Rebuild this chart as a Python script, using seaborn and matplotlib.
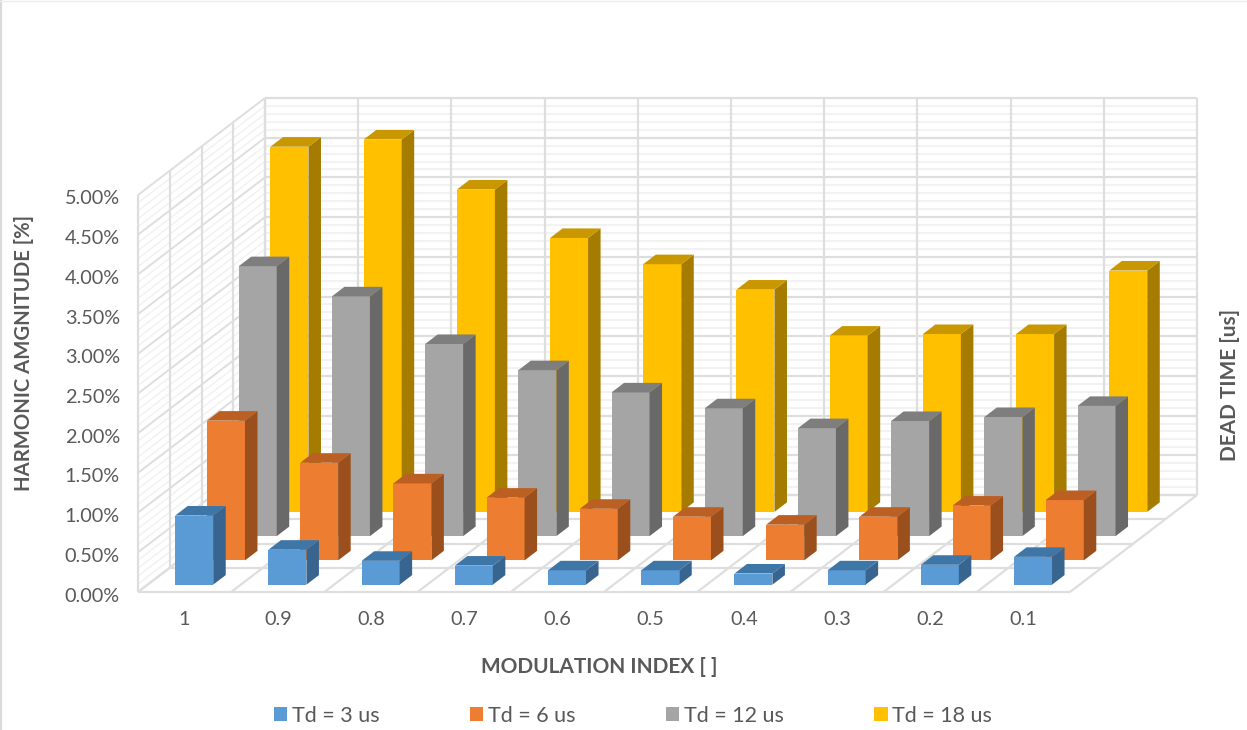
import matplotlib
matplotlib.use("Agg")
import matplotlib.pyplot as plt
from matplotlib.lines import Line2D
from matplotlib.patches import Patch
from matplotlib.transforms import ScaledTranslation
import numpy as np
import pandas as pd
import seaborn as sns

categories = ["1", "0.9", "0.8", "0.7", "0.6", "0.5", "0.4", "0.3", "0.2", "0.1"]
td3 = [0.87, 0.44, 0.30, 0.24, 0.18, 0.18, 0.14, 0.18, 0.25, 0.35]
td6 = [1.76, 1.23, 0.97, 0.79, 0.65, 0.55, 0.45, 0.55, 0.69, 0.76]
td12 = [3.40, 3.02, 2.42, 2.09, 1.81, 1.61, 1.36, 1.45, 1.50, 1.64]
td18 = [4.60, 4.69, 4.06, 3.45, 3.12, 2.80, 2.22, 2.24, 2.24, 3.04]
series_names = ["Td = 3 us", "Td = 6 us", "Td = 12 us", "Td = 18 us"]
yticks = [0, 0.5, 1, 1.5, 2, 2.5, 3, 3.5, 4, 4.5, 5]

front_cols = ["#5B9BD5", "#ED7D31", "#A5A5A5", "#FFC000"]
side_cols = ["#37658F", "#9A4F1D", "#696969", "#A67C00"]
top_cols = ["#3F76A8", "#BC5F22", "#7E7E7E", "#C99700"]

sns.set_theme(style="white")
plt.rcParams["font.family"] = ["Lato", "DejaVu Sans"]

W, H = 1247, 730
fig = plt.figure(figsize=(W / 100, H / 100), dpi=100, facecolor="white")
# pixel geometry of the plot box -> axes
L, R, B, T = 138, 1197, 592, 98
ax = fig.add_axes([L / W, 1 - B / H, (R - L) / W, (B - T) / H])
cat_px, val_px = 93.2, 79.4
DX = 127 / cat_px          # full depth in category units
DY = 97 / val_px           # full depth in value units
n = len(categories)
ax.set_xlim(0, (R - L) / cat_px)
ax.set_ylim(0, (B - T) / val_px)
ax.set_facecolor("none")

MAJ, MIN = "#DEDEDE", "#F2F2F2"
vmax = yticks[-1]


def seg(xs, ys, c, lw=1.6, z=0.5):
    ax.plot(xs, ys, color=c, lw=lw, zorder=z, solid_capstyle="butt", clip_on=False)


# minor then major grid on the two walls
levels = np.arange(0, 51) / 10
for v in levels:
    if round(v * 10) % 5:
        seg([DX, n + DX], [v + DY, v + DY], MIN, 1.5, 0.3)
        seg([0, DX], [v, v + DY], MIN, 1.1, 0.3)
for v in yticks:
    seg([DX, n + DX], [v + DY, v + DY], MAJ, 1.6, 0.5)
    seg([0, DX], [v, v + DY], MAJ, 1.4, 0.5)
for i in range(n + 1):
    seg([i + DX, i + DX], [DY, vmax + DY], MAJ)
    seg([i, i + DX], [0, DY], MAJ)
for k in range(5):
    fx, fy = k / 4 * DX, k / 4 * DY
    seg([fx, fx], [fy, vmax + fy], MAJ)
    seg([fx, n + fx], [fy, fy], MAJ)

bar_w = 38 / cat_px
slot_x, slot_y = DX / 4, DY / 4
bar_frac = 0.394
gap = (1 - bar_frac) / 2
centers = np.arange(n) + 0.5
values = [td3, td6, td12, td18]

for j in [3, 2, 1, 0]:
    ox, oy = (j + gap) * slot_x, (j + gap) * slot_y
    ddx, ddy = bar_frac * slot_x, bar_frac * slot_y
    z = 5 + 3 - j
    frame = pd.DataFrame({"pos": centers + ox, "val": values[j]})
    sns.barplot(data=frame, x="pos", y="val", native_scale=True, width=bar_w,
                color=front_cols[j], saturation=1, errorbar=None, bottom=oy,
                linewidth=0, zorder=z, ax=ax)
    for c, v in zip(centers, values[j]):
        x0, x1 = c + ox - bar_w / 2, c + ox + bar_w / 2
        y0, y1 = oy, oy + v
        ax.fill([x1, x1 + ddx, x1 + ddx, x1], [y0, y0 + ddy, y1 + ddy, y1],
                color=side_cols[j], lw=0, zorder=z)
        ax.fill([x0, x1, x1 + ddx, x0 + ddx], [y1, y1, y1 + ddy, y1 + ddy],
                color=top_cols[j], lw=0, zorder=z)

ax.set_xlim(0, (R - L) / cat_px)
ax.set_ylim(0, (B - T) / val_px)
sns.despine(ax=ax, left=True, bottom=True, right=True, top=True)
ax.grid(False)

TXT = "#595959"
ax.set_xticks(centers, categories)
ax.set_yticks(yticks, [f"{v:.2f}%" for v in yticks])
ax.tick_params(axis="x", length=0, pad=13.5, labelsize=14.3, labelcolor=TXT)
ax.tick_params(axis="y", length=0, pad=13, labelsize=14.3, labelcolor=TXT)
ax.set_xlabel("")
ax.set_ylabel("")
down = ScaledTranslation(0, -2.5 / 100, fig.dpi_scale_trans)
for lab in ax.get_yticklabels():
    lab.set_transform(lab.get_transform() + down)

fig.text(599 / W, 1 - 667 / H, "MODULATION INDEX [ ]", ha="center", va="center",
         fontsize=15, fontweight="bold", color=TXT)
fig.text(24 / W, 1 - 353 / H, "HARMONIC AMGNITUDE [%]", ha="center", va="center",
         rotation=90, fontsize=14.6, fontweight="bold", color=TXT)
fig.text(1230.5 / W, 1 - 385 / H, "DEAD TIME [us]", ha="center", va="center",
         rotation=90, fontsize=15, fontweight="bold", color=TXT)

handles = [Patch(color=c, lw=0) for c in front_cols]
fig.legend(handles, series_names, ncol=4, frameon=False, loc="center",
           bbox_to_anchor=(633 / W, 1 - 716 / H), fontsize=15.5, labelcolor=TXT,
           handlelength=0.62, handleheight=0.62, handletextpad=0.2,
           columnspacing=4.22, borderpad=0)

fig.add_artist(Line2D([1 / W, 1 / W], [0, 1], color="#D9D9D9", lw=1.6))
fig.add_artist(Line2D([0, 1], [1 - 1 / H, 1 - 1 / H], color="#EDEDED", lw=1))

fig.savefig("out.png", dpi=100, facecolor="white")
